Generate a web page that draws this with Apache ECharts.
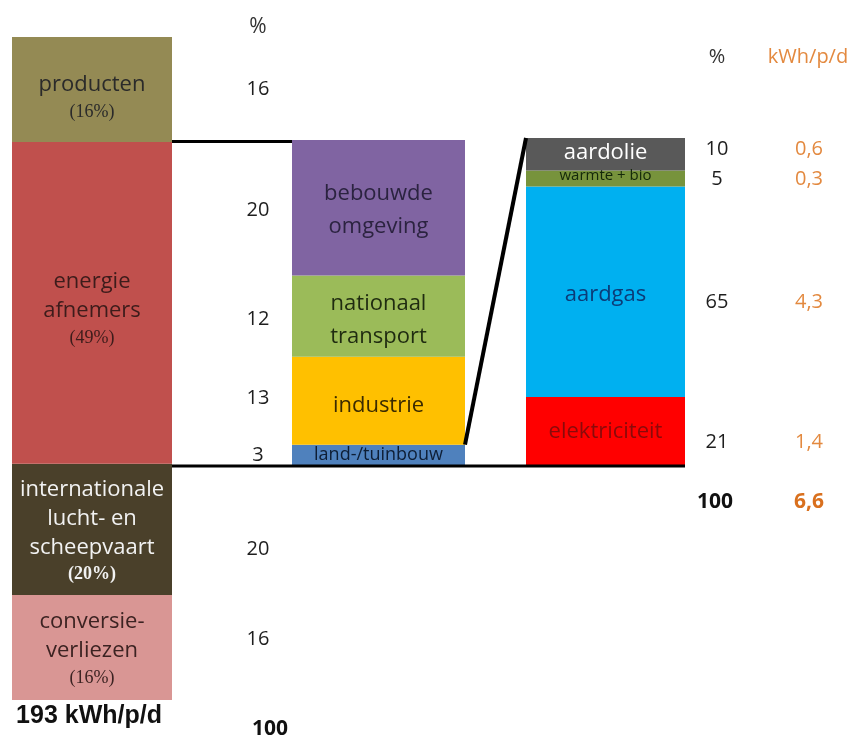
<!DOCTYPE html>
<html><head><meta charset="utf-8">
<script src="https://cdn.jsdelivr.net/npm/echarts@6/dist/echarts.min.js"></script>
<style>html,body{margin:0;padding:0;background:#fff}#c{width:860px;height:738px}</style>
</head><body><div id="c"></div>
<script>
// ---------- data ----------
const leftNames  = ['producten', 'energie afnemers', 'internationale lucht- en scheepvaart', 'conversie-verliezen'];
const leftLabels = ['producten', 'energie\nafnemers', 'internationale\nlucht- en\nscheepvaart', 'conversie-\nverliezen'];
const leftValues = [16, 49, 20, 16];
const midNames   = ['bebouwde omgeving', 'nationaal transport', 'industrie', 'land-/tuinbouw'];
const midLabels  = ['bebouwde\nomgeving', 'nationaal\ntransport', 'industrie', 'land-/tuinbouw'];
const midValues  = [20, 12, 13, 3];
const rightNames = ['aardolie', 'warmte + bio', 'aardgas', 'elektriciteit'];
const rightValues = [10, 5, 65, 21];
const rightKwh   = ['0,6', '0,3', '4,3', '1,4'];
const leftTotalLabel = '193 kWh/p/d';
const pctTotal = '100';
const kwhTotal = '6,6';
const pctHeader = '%';
const kwhHeader = 'kWh/p/d';

// ---------- styles ----------
const F = "'Open Sans', sans-serif";
const ORANGE = '#E3893F';
const leftColors = ['#948A54', '#C0504D', '#4A402A', '#D99694'];
const leftText   = ['#2a2a2a', '#3d1c1b', '#f2f2f2', '#3c2322'];
const leftLabelDy = [8, 6, 2, 2];
const leftNumDy  = [0, 0, 20, -8];
const midColors  = ['#8064A2', '#9BBB59', '#FFC000', '#4F81BD'];
const midText    = ['#2b2340', '#1f2b10', '#3b2b00', '#0e1e35'];
const midFont    = [22, 22, 22, 18];
const midLabelDy = [3, 4, 5, 0];
const midNumDy   = [3, 3, -2, 0];
const rightColors = ['#595959', '#77933C', '#00B0F0', '#FF0000'];
const rightText   = ['#ffffff', '#14280a', '#0b3c78', '#8a0a0a'];
const rightFont   = [22, 15, 22, 22];
const rightLabelDy = [-1, -3, 3, 1];
const rightNumDy  = [-5, 1, 11, 11];

const grids = [
  {left: 12,  top: 37,  width: 160, height: 663}, // 0 left bar
  {left: 292, top: 140, width: 173, height: 325}, // 1 middle bar
  {left: 526, top: 138, width: 159, height: 327}, // 2 right bar
  {left: 228, top: 37,  width: 60,  height: 663}, // 3 left numbers
  {left: 690, top: 138, width: 170, height: 327}, // 4 right numbers
  {left: 228, top: 140, width: 60,  height: 325}  // 5 middle numbers
];
const yMax = [101, 48, 101, 101, 101, 48];

const series = [];
function addStack(gi, stack, names, values, build) {
  for (let i = names.length - 1; i >= 0; i--) {
    series.push(Object.assign({
      type: 'bar', name: names[i], stack: stack,
      xAxisIndex: gi, yAxisIndex: gi, barWidth: '100%',
      data: [values[i]], silent: true, animation: false
    }, build(i)));
  }
}

addStack(0, 'left', leftNames, leftValues, i => ({
  itemStyle: {color: leftColors[i]},
  label: {
    show: true, position: 'inside', offset: [0, leftLabelDy[i]],
    formatter: leftLabels[i].split('\n').map(s => '{n|' + s + '}').join('\n') + '\n{p|(' + leftValues[i] + '%)}',
    rich: {
      n: {fontSize: 22, lineHeight: 29, color: leftText[i], fontFamily: F},
      p: {fontSize: 18, lineHeight: 26, color: leftText[i], fontFamily: "'Liberation Serif', serif", fontWeight: i === 2 ? 'bold' : 'normal'}
    }
  }
}));
addStack(3, 'leftNum', leftNames, leftValues, i => ({
  itemStyle: {color: 'rgba(0,0,0,0)'},
  label: {show: i !== 1, position: 'inside', offset: [0, leftNumDy[i]],
    formatter: String(leftValues[i]), fontSize: 20, color: '#1e1e1e', fontFamily: F}
}));
addStack(1, 'mid', midNames, midValues, i => ({
  itemStyle: {color: midColors[i]},
  label: {show: true, position: 'inside', offset: [0, midLabelDy[i]],
    formatter: midLabels[i], fontSize: midFont[i], lineHeight: 33, color: midText[i], fontFamily: F}
}));
addStack(5, 'midNum', midNames, midValues, i => ({
  itemStyle: {color: 'rgba(0,0,0,0)'},
  label: {show: true, position: 'inside', offset: [0, midNumDy[i]],
    formatter: String(midValues[i]), fontSize: 20, color: '#1e1e1e', fontFamily: F}
}));
addStack(2, 'right', rightNames, rightValues, i => ({
  itemStyle: {color: rightColors[i]},
  label: {show: true, position: 'inside', offset: [0, rightLabelDy[i]],
    formatter: rightNames[i], fontSize: rightFont[i], color: rightText[i], fontFamily: F,
    fontWeight: i === 0 ? 500 : 'normal'}
}));
addStack(4, 'rightNum', rightNames, rightValues, i => ({
  itemStyle: {color: 'rgba(0,0,0,0)'},
  label: {show: true, position: 'insideLeft', distance: 0, offset: [0, rightNumDy[i]],
    formatter: '{p|' + rightValues[i] + '}{k|' + rightKwh[i] + '}',
    rich: {
      p: {width: 54, align: 'center', fontSize: 20, color: '#1e1e1e', fontFamily: F},
      k: {width: 130, align: 'center', fontSize: 20, color: ORANGE, fontFamily: F}
    }
  }
}));

const option = {
  backgroundColor: '#ffffff',
  animation: false,
  grid: grids,
  xAxis: grids.map((g, i) => ({type: 'category', gridIndex: i, data: ['x'], show: false})),
  yAxis: grids.map((g, i) => ({type: 'value', gridIndex: i, min: 0, max: yMax[i], show: false})),
  series: series
};

const chart = echarts.init(document.getElementById('c'));
chart.setOption(option);

function rect(gi) {
  try {
    const r = chart.getModel().getComponent('grid', gi).coordinateSystem.getRect();
    return {x: r.x, y: r.y, w: r.width, h: r.height};
  } catch (e) {
    const g = grids[gi];
    return {x: g.left, y: g.top, w: g.width, h: g.height};
  }
}
function yPx(gi, v) { return chart.convertToPixel({gridIndex: gi}, ['x', v])[1]; }

const r0 = rect(0), r1 = rect(1), r2 = rect(2);
const midTotal = midValues.reduce((a, b) => a + b, 0);
const rightTotal = rightValues.reduce((a, b) => a + b, 0);
const topY = yPx(1, midTotal) + 1.5;
const baseY = yPx(1, 0) + 1;

const txt = (x, y, text, size, color, weight, family) => ({
  type: 'text', x: x, y: y, silent: true,
  style: {text: text, fill: color, fontSize: size, fontWeight: weight || 'normal',
    fontFamily: family || F, align: 'center', verticalAlign: 'middle'}
});

chart.setOption({
  graphic: [
    {type: 'line', silent: true, z: 10,
      shape: {x1: r0.x + r0.w, y1: topY, x2: r1.x, y2: topY},
      style: {stroke: '#000', lineWidth: 3}},
    {type: 'line', silent: true, z: 10,
      shape: {x1: r0.x + r0.w, y1: baseY, x2: r2.x + r2.w, y2: baseY},
      style: {stroke: '#000', lineWidth: 3}},
    {type: 'line', silent: true, z: 10,
      shape: {x1: r1.x + r1.w, y1: yPx(1, midValues[3]), x2: r2.x, y2: yPx(2, rightTotal)},
      style: {stroke: '#000', lineWidth: 4}},
    txt(258, 27, pctHeader, 21, '#333'),
    txt(717, 57, pctHeader, 20, '#333'),
    txt(808, 57, kwhHeader, 20, ORANGE),
    txt(89, 716, leftTotalLabel, 25, '#111', 'bold', "'Liberation Sans', Arial, sans-serif"),
    txt(270, 729, pctTotal, 21, '#111', 'bold'),
    txt(715, 502, pctTotal, 21, '#111', 'bold'),
    txt(809, 502, kwhTotal, 21, '#D9701E', 'bold')
  ]
});
</script>
</body></html>
